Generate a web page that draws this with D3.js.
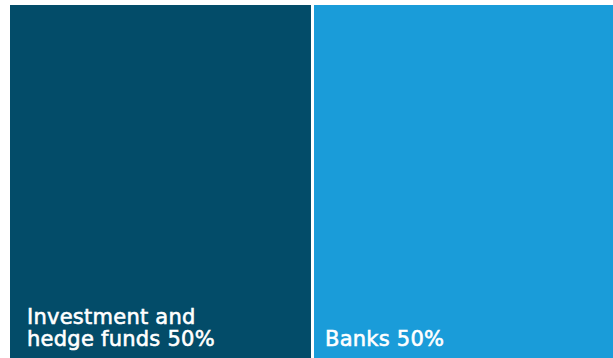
<!DOCTYPE html>
<html>
<head>
<meta charset="utf-8">
<script src="https://cdn.jsdelivr.net/npm/d3@7"></script>
<style>
  html, body { margin: 0; padding: 0; background: #ffffff; overflow: hidden; }
  svg { display: block; }
</style>
</head>
<body>
<svg id="chart" width="613" height="358"></svg>
<script>
// Share of holdings by holder type
const categories = ["Investment and hedge funds", "Banks"];
const labelLines = [["Investment and", "hedge funds 50%"], ["Banks 50%"]];
const shares = [50, 50];
const colors = ["#034c69", "#1a9cd9"];

const svg = d3.select("#chart");
const offX = 10, offY = 5, areaW = 605, areaH = 360;

const root = d3.hierarchy({
  children: categories.map((c, i) => ({ name: c, value: shares[i], color: colors[i], lines: labelLines[i] }))
}).sum(d => d.value);

d3.treemap()
  .tile(d3.treemapDice)
  .size([areaW, areaH])
  .paddingInner(3)(root);

const g = svg.append("g").attr("transform", `translate(${offX},${offY})`);

const cell = g.selectAll("g.cell")
  .data(root.leaves())
  .join("g")
  .attr("class", "cell")
  .attr("transform", d => `translate(${d.x0},${d.y0})`);

cell.append("rect")
  .attr("width", d => d.x1 - d.x0)
  .attr("height", d => d.y1 - d.y0)
  .attr("fill", d => d.data.color);

// labels sit at the bottom-left of each cell, stacked upward
const lineH = 22.5;
const bottomBase = 346 - offY;
cell.append("text")
  .attr("fill", "#ffffff")
  .attr("stroke", "#ffffff")
  .attr("stroke-width", 0.6)
  .attr("font-family", "'DejaVu Sans', sans-serif")
  .attr("font-size", 21)
  .attr("letter-spacing", 0.25)
  .selectAll("tspan")
  .data(d => d.data.lines.map((t, i, a) => ({ t, i, n: a.length, y0: d.y0, first: d.x0 === 0 })))
  .join("tspan")
  .attr("x", d => d.first ? 17 : 11)
  .attr("y", d => bottomBase - d.y0 - (d.n - 1 - d.i) * lineH)
  .text(d => d.t);
</script>
</body>
</html>
